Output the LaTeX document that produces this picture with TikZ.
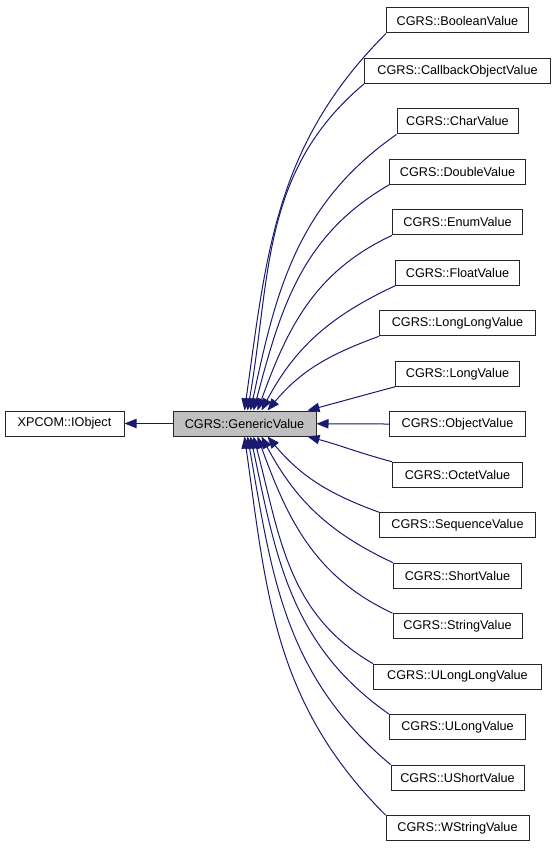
\documentclass[tikz,border=0pt]{standalone}
\usepackage{fontspec}
\setmainfont{Liberation Sans}
\usetikzlibrary{arrows.meta,calc}
\definecolor{edgeblue}{HTML}{191970}
\definecolor{boxgray}{HTML}{BFBFBF}
\tikzset{
  cls/.style={draw=black!85, line width=0.75pt, minimum height=18.75pt, inner xsep=0pt,
    font=\fontsize{9.5}{11}\selectfont},
  inh/.style={draw=edgeblue, line width=0.75pt, -{Triangle[length=9pt,width=7pt,fill=edgeblue]}},
}
\begin{document}
\begin{tikzpicture}[x=0.75pt,y=-0.75pt]
\useasboundingbox (0,0) rectangle (557,848);
% base classes
\node[cls, minimum width=119*0.75pt] (xp) at (64.5,423.5) {XPCOM::IObject};
\node[cls, fill=boxgray, minimum width=143*0.75pt] (gv) at (244.5,423.5) {CGRS::GenericValue};
\draw[inh] (gv) -- (xp);
% derived classes
\foreach \nm/\w [count=\i from 0] in {BooleanValue/142, CallbackObjectValue/186, CharValue/121,
    DoubleValue/136, EnumValue/130, FloatValue/124, LongLongValue/156, LongValue/124,
    ObjectValue/136, OctetValue/130, SequenceValue/156, ShortValue/128, StringValue/129,
    ULongLongValue/168, ULongValue/136, UShortValue/133, WStringValue/143}
  \node[cls, minimum width=\w*0.75pt] (c\i) at (457.5,20.5+\i*50.47) {CGRS::\nm};
% edges above
\foreach \i/\o/\n/\tx in {0/-135/82/72, 1/-140/80/75, 2/-145/78/78, 3/-150/75/81,
    4/-155/70/85, 5/-155/62/89, 6/-160/50/95, 7/-165/15/135}
  \draw[inh] (c\i.south west) to[out=\o, in=\n] ($(gv.north west)+(\tx,0)$);
\draw[inh] (c8) -- (gv);
% edges below
\foreach \i/\o/\n/\tx in {9/165/-15/135, 10/160/-50/95, 11/155/-62/89, 12/155/-70/85,
    13/150/-75/81, 14/145/-78/78, 15/140/-80/75, 16/135/-82/72}
  \draw[inh] (c\i.north west) to[out=\o, in=\n] ($(gv.south west)+(\tx,0)$);
\end{tikzpicture}
\end{document}
